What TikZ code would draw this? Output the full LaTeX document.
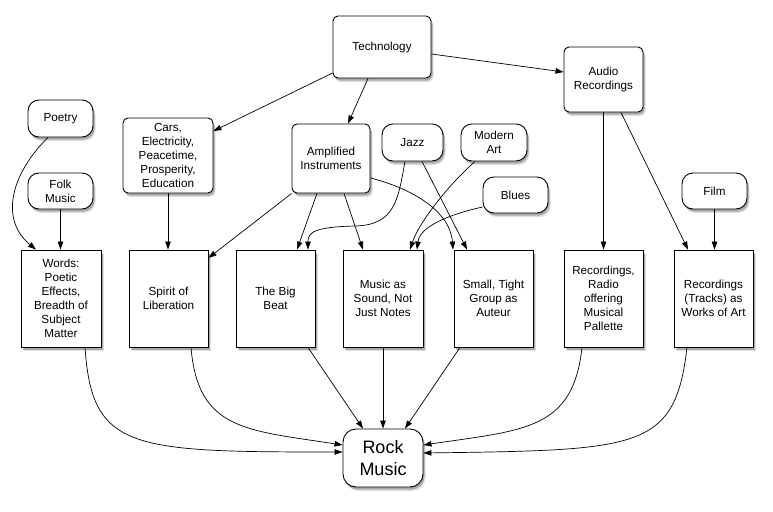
\documentclass[tikz,border=0pt]{standalone}
\usepackage{fontspec}
\setmainfont{Liberation Sans}
\usetikzlibrary{arrows.meta,shadows}
\tikzset{
  base/.style={draw, fill=white, line width=0.9pt, align=center, inner sep=1pt,
    font=\fontsize{11.7}{14}\selectfont,
    drop shadow={shadow xshift=2.5pt, shadow yshift=-4pt, opacity=0.12, fill=black},
    drop shadow={shadow xshift=1.5pt, shadow yshift=-2.5pt, opacity=0.25, fill=black}},
  rbox/.style={base, rounded corners=5pt},
  pill/.style={base, rounded corners=11pt},
  sbox/.style={base, minimum width=79pt, minimum height=97pt},
  conn/.style={-{Triangle[length=8pt,width=5.5pt]}, line width=0.7pt},
}
\begin{document}
\begin{tikzpicture}[x=1pt,y=-1pt]
\useasboundingbox (0,0) rectangle (773,511);
% top nodes
\node[rbox, minimum width=98pt, minimum height=62pt] (tech) at (382,47) {Technology};
\node[rbox, minimum width=79pt, minimum height=65pt] (audio) at (603.5,79.5) {Audio\\Recordings};
\node[pill, minimum width=65pt, minimum height=37pt] (poetry) at (60.5,118.5) {Poetry};
\node[pill, minimum width=65pt, minimum height=36pt] (folk) at (60.5,191) {Folk\\Music};
\node[rbox, minimum width=90pt, minimum height=75pt] (cars) at (168,155.5) {Cars,\\Electricity,\\Peacetime,\\Prosperity,\\Education};
\node[rbox, minimum width=78pt, minimum height=69pt] (amp) at (331,158.5) {Amplified\\Instruments};
\node[pill, minimum width=61pt, minimum height=37pt] (jazz) at (412.5,142.5) {Jazz};
\node[pill, minimum width=66pt, minimum height=37pt] (modern) at (494,142.5) {Modern\\Art};
\node[pill, minimum width=65pt, minimum height=36pt] (blues) at (515.5,195) {Blues};
\node[pill, minimum width=65pt, minimum height=36pt] (film) at (714.5,191) {Film};
% bottom boxes
\node[sbox, minimum width=80pt] (words) at (61,298.5) {Words:\\Poetic\\Effects,\\Breadth of\\Subject\\Matter};
\node[sbox] (spirit) at (168.5,298.5) {Spirit of\\Liberation};
\node[sbox] (beat) at (275.5,298.5) {The Big\\Beat};
\node[sbox, minimum width=80pt] (sound) at (383,298.5) {Music as\\Sound, Not\\Just Notes};
\node[sbox] (small) at (493.5,298.5) {Small, Tight\\Group as\\Auteur};
\node[sbox] (radio) at (603.5,298.5) {Recordings,\\Radio\\offering\\Musical\\Pallette};
\node[sbox] (tracks) at (713.5,298.5) {Recordings\\(Tracks) as\\Works of Art};
% rock
\node[base, rounded corners=13pt, minimum width=80pt, minimum height=58pt,
  font=\fontsize{18}{22}\selectfont] (rock) at (383,458) {Rock\\Music};
% connectors
\draw[conn] (tech.west |- 0,73) -- (cars.east |- 0,131);
\draw[conn] (tech.south -| 368,0) -- (amp.north -| 348,0);
\draw[conn] (tech.east |- 0,54) -- (audio.west |- 0,72);
\draw[conn] (audio.south) -- (radio.north -| audio.south);
\draw[conn] (audio.south -| 621,0) -- (tracks.north -| 688,0);
\draw[conn] (film.south) -- (tracks.north -| film.south);
\draw[conn] (poetry.south -| 48,0) .. controls (10,175) and (0,220) .. (words.north -| 36,0);
\draw[conn] (folk.south) -- (words.north -| folk.south);
\draw[conn] (cars.south) -- (spirit.north -| cars.south);
\draw[conn] (amp.south west) -- (spirit.east |- 0,258);
\draw[conn] (amp.south -| 317,0) -- (beat.north -| 297,0);
\draw[conn] (amp.south -| 344,0) -- (sound.north -| 363,0);
\draw[conn] (amp.east |- 0,178) .. controls (410,188) and (450,210) .. (small.north -| 453,0);
\draw[conn] (jazz.south -| 405,0) .. controls (398,200) and (395,225) .. (355,226)
  .. controls (315,227) and (308,232) .. (beat.north -| 308,0);
\draw[conn] (jazz.south -| 422,0) -- (small.north -| 467,0);
\draw[conn] (modern.south -| 475,0) .. controls (445,188) and (418,225) .. (sound.north -| 410,0);
\draw[conn] (blues.west |- 0,207) .. controls (455,213) and (420,225) .. (sound.north -| 417,0);
% to rock
\draw[conn] (words.south -| 85,0) .. controls (92,450) and (130,452) .. (rock.west |- 0,452);
\draw[conn] (spirit.south -| 191,0) .. controls (198,430) and (245,430) .. (rock.west |- 0,445);
\draw[conn] (beat.south -| 308,0) -- (rock.north -| 363,0);
\draw[conn] (sound.south) -- (rock.north);
\draw[conn] (small.south -| 460,0) -- (rock.north -| 405,0);
\draw[conn] (radio.south -| 582,0) .. controls (573,430) and (525,430) .. (rock.east |- 0,445);
\draw[conn] (tracks.south -| 687,0) .. controls (675,450) and (640,450) .. (rock.east |- 0,453);
\end{tikzpicture}
\end{document}
